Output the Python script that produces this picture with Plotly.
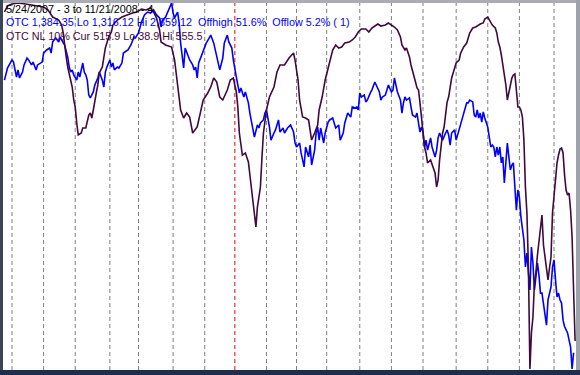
import pandas as pd
import plotly.graph_objects as go

# ---------------- data ----------------
start_date = "2007-05-24"
end_date = "2008-11-21"
market_holidays = ["2007-05-28", "2007-07-04", "2007-09-03", "2007-11-22", "2007-12-25",
                   "2008-01-01", "2008-01-21", "2008-02-18", "2008-03-21", "2008-05-26",
                   "2008-07-04", "2008-09-01"]

title_text = "5/24/2007 - 3 to 11/21/2008 - 4"
otc_text = "OTC 1,384.35 Lo 1,316.12 Hi 2,859.12  Offhigh 51.6%  Offlow 5.2% ( 1)"
nl_text = "OTC NL 10% Cur 515.9 Lo 38.9 Hi 555.5"

# OTC composite (session number, close)
otc_day = [0, 2, 5, 6, 8, 9, 10, 12, 13, 15, 16, 18, 19, 21, 22, 25, 26, 28, 30, 31, 32, 34, 36, 37, 38,
           40, 42, 43, 44, 45, 46, 48, 49, 50, 52, 53, 54, 55, 56, 57, 59, 60, 62, 63, 65, 66, 67, 68,
           70, 71, 72, 73, 75, 76, 78, 79, 82, 84, 86, 87, 89, 91, 93, 95, 97, 99, 101, 103, 104, 105,
           107, 109, 111, 112, 113, 115, 116, 117, 118, 119, 120, 122, 123, 125, 126, 127, 128, 129,
           131, 132, 134, 136, 137, 139, 140, 142, 143, 145, 146, 148, 149, 151, 152, 154, 156, 157,
           159, 160, 162, 163, 165, 166, 168, 169, 170, 172, 173, 174, 176, 177, 179, 180, 182, 183,
           185, 186, 188, 190, 192, 193, 194, 196, 197, 199, 200, 202, 203, 204, 206, 207, 208, 209,
           210, 212, 213, 215, 216, 218, 220, 222, 223, 225, 226, 228, 230, 231, 233, 234, 235, 236,
           237, 239, 240, 241, 243, 244, 246, 247, 249, 250, 251, 253, 254, 255, 257, 258, 259, 261,
           263, 264, 265, 266, 267, 269, 270, 271, 273, 274, 275, 276, 277, 278, 279, 280, 281, 283,
           284, 285, 286, 287, 288, 289, 290, 291, 293, 294, 295, 296, 297, 299, 300, 301, 303, 305,
           307, 308, 309, 311, 312, 313, 314, 315, 316, 317, 318, 319, 321, 322, 323, 324, 325, 326,
           327, 328, 329, 330, 331, 332, 333, 334, 335, 336, 337, 338, 339, 340, 341, 342, 343, 344,
           345, 346, 347, 348, 349, 350, 351, 352, 353, 354, 355, 356, 357, 358, 359, 360, 361, 362,
           363, 364, 365, 366, 367, 368, 369, 370, 371, 372, 373, 374, 375, 376, 377, 378, 379]
otc_close = [2534, 2585, 2619, 2610, 2547, 2577, 2543, 2568, 2598, 2627, 2619, 2598, 2610, 2577, 2598,
             2610, 2648, 2661, 2669, 2648, 2695, 2712, 2695, 2716, 2703, 2682, 2631, 2589, 2568, 2577,
             2556, 2534, 2568, 2547, 2606, 2568, 2556, 2534, 2471, 2459, 2484, 2513, 2543, 2568, 2534,
             2505, 2568, 2589, 2619, 2589, 2606, 2577, 2589, 2585, 2606, 2648, 2661, 2682, 2716, 2712,
             2733, 2779, 2809, 2821, 2817, 2830, 2809, 2796, 2758, 2787, 2800, 2830, 2859.12, 2817,
             2796, 2821, 2775, 2690, 2627, 2585, 2669, 2640, 2619, 2598, 2577, 2589, 2543, 2606, 2640,
             2661, 2690, 2712, 2724, 2690, 2661, 2598, 2577, 2627, 2690, 2724, 2695, 2669, 2619, 2547,
             2480, 2501, 2463, 2484, 2438, 2395, 2336, 2294, 2345, 2332, 2353, 2366, 2395, 2408, 2336,
             2281, 2311, 2324, 2366, 2315, 2332, 2311, 2332, 2345, 2315, 2269, 2252, 2269, 2227, 2168,
             2252, 2210, 2260, 2176, 2239, 2311, 2336, 2281, 2332, 2269, 2311, 2357, 2366, 2374, 2332,
             2345, 2281, 2311, 2353, 2395, 2378, 2421, 2416, 2421, 2408, 2480, 2463, 2471, 2442, 2450,
             2480, 2492, 2526, 2513, 2484, 2450, 2463, 2471, 2492, 2513, 2484, 2492, 2543, 2484, 2450,
             2395, 2438, 2463, 2450, 2459, 2421, 2387, 2378, 2395, 2353, 2315, 2336, 2315, 2252, 2281,
             2239, 2290, 2252, 2231, 2210, 2239, 2290, 2311, 2294, 2281, 2311, 2324, 2303, 2260, 2311,
             2324, 2281, 2303, 2353, 2400, 2438, 2438, 2450, 2442, 2387, 2378, 2408, 2374, 2395, 2357,
             2400, 2374, 2336, 2294, 2252, 2260, 2252, 2210, 2252, 2218, 2252, 2185, 2210, 2100, 2176,
             2269, 2210, 2155, 2176, 2185, 2083, 1986, 2071, 2041, 1957, 1915, 1860, 1746, 1805, 1721,
             1649, 1830, 1763, 1649, 1721, 1763, 1712, 1636, 1636, 1594, 1552, 1501, 1607, 1636, 1662,
             1746, 1776, 1691, 1620, 1636, 1607, 1594, 1522, 1495, 1481, 1468, 1438, 1409, 1316.12,
             1384.35]

# OTC new lows, 10% trend (session number, value)
nl_day = [0, 2, 5, 9, 14, 18, 22, 26, 29, 32, 36, 38, 39, 40, 41, 42, 44, 45, 46, 47, 48, 49, 51, 52,
          54, 55, 56, 57, 58, 59, 60, 61, 62, 63, 65, 66, 67, 69, 71, 72, 75, 78, 81, 85, 88, 91, 94,
          97, 99, 101, 103, 104, 107, 111, 113, 115, 117, 119, 121, 123, 125, 128, 130, 132, 135, 137,
          139, 141, 143, 145, 148, 150, 152, 154, 155, 156, 158, 160, 162, 164, 166, 167, 168, 170,
          171, 172, 174, 176, 179, 181, 183, 186, 189, 192, 193, 195, 196, 198, 200, 202, 203, 204,
          206, 208, 209, 211, 213, 216, 218, 220, 222, 224, 226, 229, 231, 233, 235, 237, 240, 242,
          244, 246, 248, 250, 253, 255, 257, 259, 261, 263, 264, 266, 267, 269, 270, 271, 273, 274,
          275, 276, 277, 278, 279, 280, 281, 283, 285, 286, 287, 288, 289, 290, 291, 292, 293, 294,
          295, 296, 297, 299, 300, 302, 303, 305, 307, 309, 311, 313, 315, 316, 318, 319, 321, 322,
          324, 326, 327, 328, 329, 330, 331, 332, 333, 334, 335, 337, 338, 339, 340, 341, 342, 343,
          344, 345, 346, 347, 348, 349, 350, 351, 352, 353, 354, 355, 356, 357, 358, 359, 360, 361,
          362, 363, 364, 365, 366, 367, 368, 369, 370, 371, 372, 373, 374, 375, 376, 377, 378, 379]
nl_value = [51.6, 43.1, 40.3, 38.9, 40.3, 41.7, 43.1, 44.5, 48.8, 58.7, 62.9, 70.0, 81.2, 101.0, 115.1,
            129.2, 147.6, 157.5, 175.8, 185.7, 208.3, 225.2, 222.4, 215.3, 215.3, 204.1, 197.0, 194.2,
            201.2, 189.9, 180.1, 165.9, 154.6, 137.7, 129.2, 115.1, 102.4, 88.3, 79.8, 70.0, 62.9, 58.7,
            55.8, 53.0, 51.6, 47.4, 48.8, 46.0, 51.6, 60.1, 77.0, 94.0, 98.2, 101.0, 119.4, 154.6, 189.9,
            201.2, 194.2, 199.8, 222.4, 213.9, 197.0, 175.8, 165.9, 157.5, 144.8, 150.4, 171.6, 175.8,
            161.7, 147.6, 144.8, 164.5, 185.7, 222.4, 253.5, 250.6, 263.3, 298.6, 335.3, 355.1, 326.9,
            298.6, 257.7, 222.4, 189.9, 171.6, 157.5, 136.3, 126.4, 126.4, 116.5, 109.5, 119.4, 147.6,
            175.8, 199.8, 201.2, 204.1, 218.2, 232.3, 222.4, 211.1, 189.9, 171.6, 147.6, 123.6, 105.2,
            98.2, 102.4, 101.0, 95.4, 94.0, 91.1, 86.9, 79.8, 75.6, 75.6, 79.8, 74.2, 71.4, 68.5, 71.4,
            70.0, 67.1, 70.0, 72.8, 77.0, 86.9, 98.2, 105.2, 102.4, 115.1, 126.4, 133.5, 150.4, 158.9,
            161.7, 180.1, 201.2, 221.0, 242.2, 250.6, 264.7, 260.5, 274.6, 278.9, 298.6, 288.7, 260.5,
            242.2, 222.4, 213.9, 194.2, 178.6, 171.6, 157.5, 144.8, 130.7, 123.6, 119.4, 109.5, 101.0,
            95.4, 81.2, 74.2, 72.8, 70.0, 68.5, 67.1, 61.5, 58.7, 62.9, 70.0, 74.2, 81.2, 94.0, 101.0,
            112.3, 126.4, 140.5, 154.6, 175.8, 164.5, 144.8, 140.5, 139.1, 161.7, 185.7, 185.7, 189.9,
            199.8, 232.3, 298.6, 335.3, 411.5, 555.5, 504.7, 482.1, 434.1, 418.6, 394.6, 377.7, 352.3,
            338.1, 380.5, 394.6, 412.9, 429.9, 412.9, 397.4, 335.3, 309.9, 278.9, 264.7, 253.5, 245.0,
            243.6, 250.6, 281.7, 302.9, 309.9, 307.1, 331.1, 369.2, 444.0, 515.9]

# ---------------- calendar -> month separators ----------------
sessions = pd.bdate_range(start_date, end_date)
sessions = sessions[~sessions.isin(pd.to_datetime(market_holidays))]
month_starts = [i for i in range(1, len(sessions)) if sessions[i].month != sessions[i - 1].month]

# ---------------- figure ----------------
W, H = 580, 375
ML, MR, MT, MB = 3, 4, 3, 5
PW, PH = W - ML - MR, H - MT - MB

fig = go.Figure()
fig.add_trace(go.Scatter(x=nl_day, y=nl_value, mode="lines", yaxis="y2",
                         line=dict(color="#3f0a3f", width=1.6), hoverinfo="skip"))
fig.add_trace(go.Scatter(x=otc_day, y=otc_close, mode="lines", yaxis="y",
                         line=dict(color="#0000ff", width=1.6), hoverinfo="skip"))

shapes = []
for i in month_starts:
    red = sessions[i].month == 1
    shapes.append(dict(type="line", xref="x", yref="paper", x0=i, x1=i, y0=0, y1=1, layer="below",
                       line=dict(color="#ff0000" if red else "#7f7f7f", width=1, dash="4px,3px")))


def px_x(p):
    return (p - ML) / PW


def px_y(p):
    return 1 - (p - MT) / PH


# window frame around the plot area
frame = [
    (0, 0, W, MT, "#a9acb2"),          # top
    (0, 0, ML, H, "#3c4556"),          # left
    (W - MR, 0, W, H, "#9ea3ab"),      # right
    (0, H - MB, W, H, "#1d2d4d"),      # bottom
]
for x0, y0, x1, y1, c in frame:
    shapes.append(dict(type="rect", xref="paper", yref="paper", x0=px_x(x0), x1=px_x(x1),
                       y0=px_y(y1), y1=px_y(y0), fillcolor=c, line=dict(width=0), layer="above"))

font_family = "Liberation Sans, Arial, sans-serif"
annotations = []
for txt, col, yc in [(title_text, "#000000", 9), (otc_text, "#0000ff", 22.5), (nl_text, "#3f0a3f", 36)]:
    annotations.append(dict(text=txt, xref="paper", yref="paper", x=px_x(5), y=px_y(yc),
                            xanchor="left", yanchor="middle", showarrow=False, borderpad=0,
                            font=dict(family=font_family, size=10.8, color=col)))

fig.update_layout(
    width=W, height=H,
    margin=dict(l=ML, r=MR, t=MT, b=MB, pad=0),
    paper_bgcolor="#2a3548", plot_bgcolor="#ffffff",
    showlegend=False,
    xaxis=dict(range=[-0.976, 379.6], visible=False, showgrid=False, zeroline=False),
    yaxis=dict(range=[1311.8, 2859.12], visible=False, showgrid=False, zeroline=False),
    yaxis2=dict(range=[556.9, 38.9], overlaying="y", visible=False, showgrid=False, zeroline=False),
    shapes=shapes,
    annotations=annotations,
)

fig.write_html("out.html", config={"staticPlot": True},
               post_script="document.body.style.margin='0';document.body.style.padding='0';")
